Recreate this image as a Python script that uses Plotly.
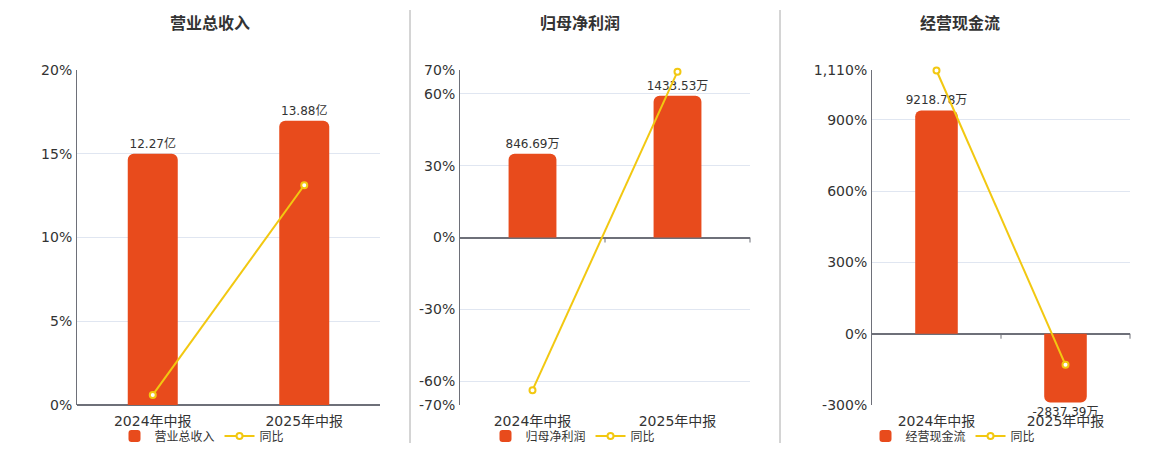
import plotly.graph_objects as go

# data
categories = ["2024年中报", "2025年中报"]

titles = ["营业总收入", "归母净利润", "经营现金流"]
bar_names = ["营业总收入", "归母净利润", "经营现金流"]

revenue = [12.27, 13.88]          # 亿
revenue_text = ["12.27亿", "13.88亿"]
revenue_yoy = [0.6, 13.12]        # %

profit = [846.69, 1433.53]        # 万
profit_text = ["846.69万", "1433.53万"]
profit_yoy = [-63.8, 69.3]

cashflow = [9218.78, -2837.39]    # 万
cashflow_text = ["9218.78万", "-2837.39万"]
cashflow_yoy = [1108.0, -130.8]

yoy_ticks = [
    [0, 5, 10, 15, 20],
    [-70, -60, -30, 0, 30, 60, 70],
    [-300, 0, 300, 600, 900, 1110],
]
yoy_ticktext = [
    ["0%", "5%", "10%", "15%", "20%"],
    ["-70%", "-60%", "-30%", "0%", "30%", "60%", "70%"],
    ["-300%", "0%", "300%", "600%", "900%", "1,110%"],
]

BAR = "#e84b1c"
LINE = "#f2c811"
AXIS = "#6e7079"
GRID = "#e0e6f1"
TXT = "#333333"
FONT = "DejaVu Sans, Noto Sans CJK SC, sans-serif"

W, H = 1160, 450
OFF = 8  # page body margin


def px(x):
    return (x - OFF) / W


def py(y):
    return 1 - (y - OFF) / H


x_dom = [(px(77), px(380)), (px(460), px(750)), (px(872), px(1130))]
y_dom = (py(405), py(70))
centers = [210, 580, 960]
legend_x = [194 + OFF, 565 + OFF, 945 + OFF]

bars = [revenue, profit, cashflow]
bar_texts = [revenue_text, profit_text, cashflow_text]
yoys = [revenue_yoy, profit_yoy, cashflow_yoy]
# hidden bar axes, zero aligned with the percent axes
bar_ranges = [
    [0, 12.27 * 20 / 15],
    [-70 * 846.69 / 35, 70 * 846.69 / 35],
    [-300 * 9.807, 1110 * 9.807],
]

fig = go.Figure()
layout = {}
shapes = []
annotations = []

for i in range(3):
    n = i + 1
    xa = "x" if n == 1 else f"x{n}"
    ya_bar = "y" if n == 1 else f"y{2 * n - 1}"
    ya_pct = f"y{2 * n}"
    leg = "legend" if n == 1 else f"legend{n}"

    fig.add_trace(go.Bar(
        x=categories, y=bars[i], name=bar_names[i],
        xaxis=xa, yaxis=ya_bar, legend=leg,
        marker=dict(color=BAR, line=dict(width=0)),
        width=0.33, text=bar_texts[i], textposition="outside",
        textfont=dict(size=12, color=TXT, family=FONT),
        constraintext="none", cliponaxis=False, hoverinfo="x+text",
    ))
    fig.add_trace(go.Scatter(
        x=categories, y=yoys[i], name="同比", mode="lines+markers",
        xaxis=xa, yaxis=ya_pct, legend=leg,
        line=dict(color=LINE, width=2),
        marker=dict(size=6, color="white", line=dict(color=LINE, width=2)),
        cliponaxis=False,
    ))

    kx = "xaxis" if n == 1 else f"xaxis{n}"
    kyb = "yaxis" if n == 1 else f"yaxis{2 * n - 1}"
    kyp = f"yaxis{2 * n}"
    ylo, yhi = yoy_ticks[i][0], yoy_ticks[i][-1]

    layout[kx] = dict(
        domain=list(x_dom[i]), anchor=ya_bar,
        type="category", showline=False, showgrid=False, ticks="",
        tickfont=dict(size=14, color=TXT, family=FONT), fixedrange=True,
        ticklabelstandoff=6,
    )
    layout[kyb] = dict(
        domain=list(y_dom), anchor=xa, range=bar_ranges[i],
        showticklabels=False, showgrid=False, zeroline=False,
        showline=False, ticks="",
    )
    layout[kyp] = dict(
        domain=list(y_dom), anchor=xa, overlaying=ya_bar, side="left",
        range=[ylo, yhi],
        tickvals=yoy_ticks[i], ticktext=yoy_ticktext[i],
        showgrid=True, gridcolor=GRID, gridwidth=1,
        showline=True, linecolor=AXIS, linewidth=1,
        zeroline=True, zerolinecolor=AXIS, zerolinewidth=1.5,
        tickfont=dict(size=14, color=TXT, family=FONT), ticks="",
        ticklabelstandoff=1,
    )
    layout[leg] = dict(
        orientation="h", x=px(legend_x[i]), xanchor="center",
        y=py(436), yanchor="middle", font=dict(size=12, color=TXT, family=FONT),
        bgcolor="rgba(0,0,0,0)",
    )

    # category boundary ticks below the zero line
    for fx in (0.5, 1.0):
        shapes.append(dict(
            type="line", xref=f"{xa} domain", yref=ya_pct,
            x0=fx, x1=fx, y0=0, y1=-5, ysizemode="pixel", yanchor=0,
            line=dict(color=AXIS, width=1),
        ))

    annotations.append(dict(
        text=f"<b>{titles[i]}</b>", xref="paper", yref="paper",
        x=px(centers[i]), y=py(22), showarrow=False,
        font=dict(size=16, color=TXT, family="Noto Sans CJK SC"),
        xanchor="center", yanchor="middle",
    ))

# panel dividers
for xline in (410, 780):
    shapes.append(dict(
        type="line", xref="paper", yref="paper",
        x0=px(xline), x1=px(xline), y0=py(443), y1=py(10),
        line=dict(color="#aaaaaa", width=1),
    ))

fig.update_layout(
    width=W, height=H, margin=dict(l=0, r=0, t=0, b=0, autoexpand=False),
    paper_bgcolor="white", plot_bgcolor="white",
    barcornerradius=6, showlegend=True,
    shapes=shapes, annotations=annotations,
    font=dict(family=FONT, color=TXT),
    **layout,
)

fig.write_html("out.html")
